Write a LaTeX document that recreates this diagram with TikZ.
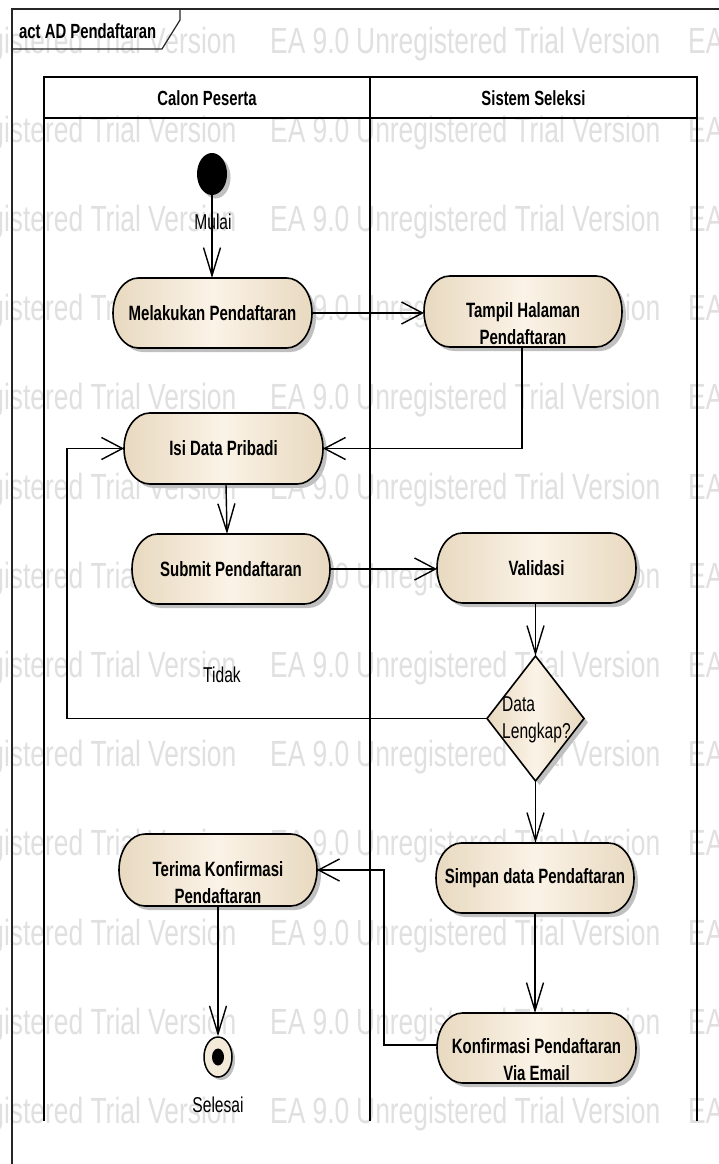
\documentclass[tikz,border=0pt]{standalone}
\usepackage{fontspec}
\setmainfont{Liberation Sans}[FakeStretch=0.725]
\usetikzlibrary{arrows.meta,calc,shapes.geometric}
\definecolor{wmgray}{RGB}{224,224,224}
\definecolor{actedge}{RGB}{232,217,192}
\definecolor{actmid}{RGB}{251,243,231}
\definecolor{shadowgray}{RGB}{192,192,192}
\definecolor{finalfill}{RGB}{244,234,218}

\newcommand\stadium[5]{%
  \pgfmathsetmacro\ahw{#4/2}%
  \pgfmathsetmacro\ahh{#5/2}%
  \pgfmathsetmacro\arx{#5/2*0.725}%
  \fill[shadowgray,shift={(#2+4,#3+4)}] (-\ahw+\arx,-\ahh) -- (\ahw-\arx,-\ahh)
    arc[start angle=90,end angle=-90,x radius=\arx pt,y radius=\ahh pt]
    -- (-\ahw+\arx,\ahh)
    arc[start angle=270,end angle=90,x radius=\arx pt,y radius=\ahh pt] -- cycle;
  \shadedraw[actfill,shift={(#2,#3)}] (-\ahw+\arx,-\ahh) -- (\ahw-\arx,-\ahh)
    arc[start angle=90,end angle=-90,x radius=\arx pt,y radius=\ahh pt]
    -- (-\ahw+\arx,\ahh)
    arc[start angle=270,end angle=90,x radius=\arx pt,y radius=\ahh pt] -- cycle;
  \node[anchorbox,minimum width=#4pt,minimum height=#5pt] (#1) at (#2,#3) {};
}

\tikzset{
  actfill/.style={left color=actedge,right color=actedge,middle color=actmid,draw=black,line width=1.6pt},
  anchorbox/.style={rectangle,inner sep=0pt,outer sep=0pt,draw=none},
  conn/.style={line width=1.4pt,draw=black},
  varr/.style={conn,-{Straight Barb[length=28pt,width=17pt]}},
  harr/.style={conn,-{Straight Barb[length=21pt,width=22pt]}},
  lane/.style={line width=2pt,draw=black},
  framel/.style={line width=1.2pt,draw=black!85},
  acttext/.style={inner sep=0pt,align=center,font=\fontsize{20.7}{27}\selectfont\bfseries},
  lbl/.style={inner sep=0pt,align=left,font=\fontsize{21.5}{27}\selectfont},
  hdr/.style={inner sep=0pt,anchor=base,font=\fontsize{20.5}{24}\selectfont\bfseries},
  wm/.style={inner sep=0pt,anchor=base west,text=wmgray,font=\fontsize{36.4}{40}\selectfont}
}

\begin{document}
\begin{tikzpicture}[x=1pt,y=-1pt]
\useasboundingbox (0,0) rectangle (718,1164);
\fill[white] (0,0) rectangle (718,1164);

% watermark
\foreach \k in {0,...,12}{
  \pgfmathsetmacro\yy{53+89.2*\k}
  \node[wm] (wmA\k) at (-148,\yy) {EA 9.0};
  \node[wm] (wmB\k) at (270,\yy) {EA 9.0};
  \node[wm] (wmC\k) at (688,\yy) {EA 9.0};
  \node[wm] (wmD\k) at (-68,\yy) {Unregistered Trial Version};
  \node[wm] (wmE\k) at (356,\yy) {Unregistered Trial Version};
}

% frame and title tab
\draw[framel] (12,1200) -- (12,9) -- (740,9);
\draw[framel] (12,49) -- (162,49) -- (180,20) -- (180,9);
\node[inner sep=0pt,anchor=base west,font=\fontsize{20.5}{24}\selectfont\bfseries] (title) at (19,38) {act AD Pendaftaran};

% swimlanes
\draw[lane] (44,1121) -- (44,77) -- (697,77) -- (697,1121);
\draw[lane] (44,118) -- (697,118);
\draw[lane] (370,77) -- (370,1121);
\node[hdr] (laneA) at (207,105) {Calon Peserta};
\node[hdr] (laneB) at (533.5,105) {Sistem Seleksi};

% initial node
\fill[shadowgray] (215.5,177.5) ellipse [x radius=15pt,y radius=21pt];
\node[ellipse,fill=black,inner sep=0pt,minimum width=30pt,minimum height=42pt] (start) at (212,174) {};

% actions
\stadium{melakukan}{212.5}{313}{199}{70}
\node[acttext] (melakukanT) at (212.5,313) {Melakukan Pendaftaran};
\stadium{tampil}{523}{311.5}{198}{71}
\node[acttext] (tampilT) at (523,323.5) {Tampil Halaman\\Pendaftaran};
\stadium{isi}{223.5}{448.5}{199}{71}
\node[acttext] (isiT) at (223.5,448.5) {Isi Data Pribadi};
\stadium{submit}{231}{569}{198}{70}
\node[acttext] (submitT) at (231,569) {Submit Pendaftaran};
\stadium{validasi}{536.5}{568}{199}{70}
\node[acttext] (validasiT) at (536.5,568) {Validasi};
\stadium{simpan}{535}{878}{198}{70}
\node[acttext] (simpanT) at (535,878) {Simpan data Pendaftaran};
\stadium{konf}{536.5}{1048}{199}{70}
\node[acttext] (konfT) at (536.5,1060) {Konfirmasi Pendaftaran\\Via Email};
\stadium{terima}{218}{870}{198}{72}
\node[acttext] (terimaT) at (218,882.5) {Terima Konfirmasi\\Pendaftaran};

% decision
\fill[shadowgray] (539.5,660) -- (588,722.5) -- (539.5,785) -- (491,722.5) -- cycle;
\shadedraw[actfill] (535.5,656) -- (584,718.5) -- (535.5,781) -- (487,718.5) -- cycle;
\node[anchorbox,minimum width=97pt,minimum height=125pt] (dec) at (535.5,718.5) {};
\node[lbl,anchor=west] (decT) at (502,719.5) {Data\\Lengkap?};

% final node
\fill[shadowgray] (221,1060) ellipse [x radius=14pt,y radius=20pt];
\node[ellipse,draw=black,line width=1.5pt,fill=finalfill,inner sep=0pt,minimum width=28pt,minimum height=40pt] (final) at (218,1057) {};
\node[ellipse,fill=black,inner sep=0pt,minimum width=12pt,minimum height=17pt] (finaldot) at (218,1057) {};

% connectors
\draw[varr] (start.south) -- (start.south |- melakukan.north);
\node[lbl] (mulai) at (213,222) {Mulai};
\draw[harr] (melakukan.east) -- (melakukan.east -| tampil.west);
\draw[harr] ([xshift=-1pt]tampil.south) |- (isi.east);
\draw[varr] ([xshift=2.5pt]isi.south) -- ([xshift=-4pt]submit.north);
\draw[harr] (submit.east) -- (submit.east -| validasi.west);
\draw[varr] (dec.north |- validasi.south) -- (dec.north);
\coordinate (loopc) at (67,718.5);
\draw[harr] (dec.west) -- (loopc) |- (isi.west);
\node[lbl] (tidak) at (222,675) {Tidak};
\draw[varr] (dec.south) -- (dec.south |- simpan.north);
\draw[varr] (simpan.south) -- (simpan.south |- konf.north);
\coordinate (kx) at (384,1045);
\draw[harr] (konf.west |- kx) -- (kx) |- (terima.east);
\draw[varr] (terima.south) -- (final.north);
\node[lbl] (selesai) at (218,1105) {Selesai};
\end{tikzpicture}
\end{document}
